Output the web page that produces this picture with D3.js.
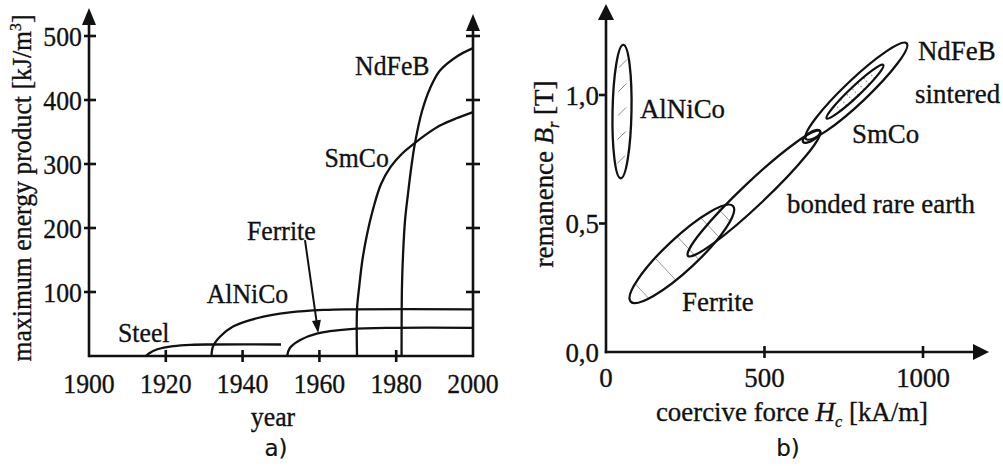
<!DOCTYPE html>
<html>
<head>
<meta charset="utf-8">
<script src="https://cdn.jsdelivr.net/npm/d3@7"></script>
<style>
  html, body { margin: 0; padding: 0; background: #fff; }
  svg { display: block; }
  text { font-family: "Liberation Serif", "Times New Roman", serif; fill: #111; stroke: #111; stroke-width: 0.35px; }
  .panel-tag { font-family: "DejaVu Sans", Verdana, sans-serif; stroke-width: 0.2px; }
</style>
</head>
<body>
<svg id="chart" width="1003" height="466"></svg>
<script>
// ---------- a) maximum energy product by year ----------
const yearTicks = [1900, 1920, 1940, 1960, 1980, 2000];
const energyTicks = [100, 200, 300, 400, 500];

// [year, kJ/m³]
const steel   = [[1914.8, 0], [1915.6, 4], [1917.8, 10.5], [1922, 15.5], [1926.5, 17.5], [1932, 18], [1950, 18]];
const alnico  = [[1931.9, 0], [1932.3, 15], [1934.1, 30], [1937.5, 46], [1943.7, 59], [1952.3, 68], [1961, 72], [1968, 73], [2000, 73]];
const ferrite = [[1951.6, 0], [1952.3, 12.5], [1955, 25], [1959.3, 35], [1968, 42], [1980, 44], [2000, 44]];
const smco    = [[1969.8, 0], [1969.8, 73], [1970.4, 110], [1971.2, 150], [1972.4, 190], [1974, 230], [1976, 268], [1978.5, 295], [1981.5, 316], [1984.9, 333], [1988, 347], [1991.4, 360], [1995.5, 371], [2000, 381]];
const ndfeb   = [[1981.4, 0], [1981.5, 108], [1981.8, 161], [1982.3, 212], [1983.1, 255], [1984, 298], [1984.9, 333], [1986.7, 382], [1988.8, 418], [1991.4, 446], [1995.8, 468], [2000, 481]];
const ferriteArrow = [[1956.25, 181], [1959.7, 35.5]];

const curveLabels = [
  { text: "NdFeB",   year: 1969.3,  value: 439,   anchor: "start" },
  { text: "SmCo",    year: 1978.1,  value: 295.3, anchor: "end" },
  { text: "Ferrite", year: 1941.15, value: 181.25, anchor: "start" },
  { text: "AlNiCo",  year: 1930.65, value: 82.8,  anchor: "start" },
  { text: "Steel",   year: 1907.55, value: 22.3,  anchor: "start" }
];

// ---------- b) remanence vs coercive force ----------
const hcTicks = [0, 500, 1000];
const brTicks = [0, 0.5, 1.0];
const brTickText = ["0,0", "0,5", "1,0"];

// each region: ends of the long axis [kA/m, T] and width as a fraction of its length
const regions = [
  { name: "AlNiCo",        from: [54.6, 1.195], to: [46.4, 0.676], width: 0.142, hatch: "dash" },
  { name: "Ferrite",       from: [77.9, 0.196], to: [400.6, 0.568], width: 0.23, hatch: "line" },
  { name: "bonded",        from: [258.7, 0.374], to: [675, 0.860], width: 0.13, hatch: null },
  { name: "SmCo bonded",   from: [621.5, 0.818], to: [675, 0.860], width: 0.4, hatch: null },
  { name: "NdFeB",         from: [631, 0.829], to: [948.6, 1.201], width: 0.167, hatch: null },
  { name: "SmCo sintered", from: [696.2, 0.909], to: [874.8, 1.117], width: 0.13, hatch: "dot" }
];

const regionLabels = [
  { text: "AlNiCo",            hc: 107, br: 0.911 },
  { text: "NdFeB",             hc: 984, br: 1.136 },
  { text: "sintered",          hc: 975, br: 0.969 },
  { text: "SmCo",              hc: 776, br: 0.813 },
  { text: "bonded rare earth", hc: 571, br: 0.541 },
  { text: "Ferrite",           hc: 240, br: 0.160 }
];

// ---------- drawing ----------
const svg = d3.select("#chart");
const ink = "#111";

function txt(g, x, y, s, size, sx, anchor) {
  return g.append("text")
    .attr("transform", `translate(${x},${y}) scale(${sx},1)`)
    .attr("text-anchor", anchor || "start")
    .attr("font-size", size)
    .text(s);
}
function arrowHead(g, tip, dir, len, hw) {
  // dir: unit vector pointing towards the tip
  const [tx, ty] = tip, [ux, uy] = dir;
  const bx = tx - ux * len, by = ty - uy * len;
  g.append("path")
    .attr("d", `M${tx},${ty}L${bx - uy * hw},${by + ux * hw}L${bx + uy * hw},${by - ux * hw}Z`)
    .attr("fill", ink);
}

// ---- panel a ----
const A = svg.append("g");
const fa = 28, sa = 0.92;
const x = d3.scaleLinear().domain([1900, 2000]).range([89, 473]);
const y = d3.scaleLinear().domain([0, 500]).range([356, 36]);

const axisA = A.append("g").attr("stroke", ink).attr("stroke-width", 2.6).attr("fill", "none");
axisA.append("line").attr("x1", x(1900)).attr("x2", x(1900)).attr("y1", y(0) + 1.3).attr("y2", 22);
axisA.append("line").attr("x1", x(2000)).attr("x2", x(2000)).attr("y1", y(0) + 1.3).attr("y2", 28);
axisA.append("line").attr("x1", x(1900)).attr("x2", x(2000)).attr("y1", y(0)).attr("y2", y(0));
arrowHead(A, [x(1900), 8], [0, -1], 17, 7);
arrowHead(A, [x(2000), 14], [0, -1], 17, 7);

axisA.selectAll(".tl").data(energyTicks).join("line").attr("class", "tl")
  .attr("x1", x(1900) - 5).attr("x2", x(1900) + 7).attr("y1", d => y(d)).attr("y2", d => y(d));
axisA.selectAll(".tr").data(energyTicks).join("line").attr("class", "tr")
  .attr("x1", x(2000) - 7).attr("x2", x(2000) + 7).attr("y1", d => y(d)).attr("y2", d => y(d));
axisA.selectAll(".tb").data(yearTicks.slice(1, -1)).join("line").attr("class", "tb")
  .attr("x1", d => x(d)).attr("x2", d => x(d)).attr("y1", y(0) - 6).attr("y2", y(0) + 6);

yearTicks.forEach(t => txt(A, x(t), 393, t, fa, sa, "middle"));
energyTicks.forEach(t => txt(A, 82, y(t) + 9.5, t, fa, sa, "end"));
txt(A, 273, 426, "year", fa, sa, "middle");

const yl = A.append("text")
  .attr("transform", `translate(31,188) rotate(-90) scale(${sa},1)`)
  .attr("text-anchor", "middle").attr("font-size", fa);
yl.append("tspan").text("maximum energy product [kJ/m");
yl.append("tspan").attr("font-size", 17).attr("dy", -10).text("3");
yl.append("tspan").attr("dy", 10).text("]");

const line = d3.line().x(d => x(d[0])).y(d => y(d[1])).curve(d3.curveCatmullRom.alpha(0.5));
const curves = A.append("g").attr("fill", "none").attr("stroke", ink).attr("stroke-width", 2.3);
[steel, alnico, ferrite, smco, ndfeb].forEach(s => curves.append("path").attr("d", line(s)));

// pointer from the "Ferrite" label to its curve
const [p0, p1] = ferriteArrow.map(d => [x(d[0]), y(d[1])]);
const L = Math.hypot(p1[0] - p0[0], p1[1] - p0[1]);
const u = [(p1[0] - p0[0]) / L, (p1[1] - p0[1]) / L];
A.append("line").attr("x1", p0[0]).attr("y1", p0[1])
  .attr("x2", p1[0] - u[0] * 10).attr("y2", p1[1] - u[1] * 10)
  .attr("stroke", ink).attr("stroke-width", 2);
arrowHead(A, p1, u, 13, 4.5);

curveLabels.forEach(l => txt(A, x(l.year), y(l.value), l.text, fa, sa, l.anchor));
txt(A, 276, 456, "a)", 23, 1, "middle").attr("class", "panel-tag");

// ---- panel b ----
const B = svg.append("g");
const fb = 28, sb = 0.96;
const x2 = d3.scaleLinear().domain([0, 1000]).range([606, 923]);
const y2 = d3.scaleLinear().domain([0, 1]).range([352, 95]);

const axisB = B.append("g").attr("stroke", ink).attr("stroke-width", 2.6).attr("fill", "none");
axisB.append("line").attr("x1", x2(0)).attr("x2", x2(0)).attr("y1", y2(0) + 1.3).attr("y2", 18);
axisB.append("line").attr("x1", x2(0) - 1.3).attr("x2", 975).attr("y1", y2(0)).attr("y2", y2(0));
arrowHead(B, [x2(0), 4], [0, -1], 16, 8);
arrowHead(B, [989, y2(0)], [1, 0], 16, 8);
axisB.selectAll(".ty").data(brTicks.slice(1)).join("line").attr("class", "ty")
  .attr("x1", x2(0) - 7).attr("x2", x2(0)).attr("y1", d => y2(d)).attr("y2", d => y2(d));
axisB.selectAll(".tx").data(hcTicks.slice(1)).join("line").attr("class", "tx")
  .attr("x1", d => x2(d)).attr("x2", d => x2(d)).attr("y1", y2(0) - 6).attr("y2", y2(0) + 6);

hcTicks.forEach(t => txt(B, x2(t), 387, t, fb, sb, "middle"));
brTicks.forEach((t, i) => txt(B, 599, y2(t) + 9.5, brTickText[i], fb, sb, "end"));

const xl = B.append("text")
  .attr("transform", `translate(792,421) scale(${sb},1)`)
  .attr("text-anchor", "middle").attr("font-size", fb);
xl.append("tspan").text("coercive force ");
xl.append("tspan").attr("font-style", "italic").text("H");
xl.append("tspan").attr("font-style", "italic").attr("font-size", 17).attr("dy", 6).text("c");
xl.append("tspan").attr("dy", -6).text(" [kA/m]");

const yl2 = B.append("text")
  .attr("transform", `translate(553,174) rotate(-90) scale(${sb},1)`)
  .attr("text-anchor", "middle").attr("font-size", fb);
yl2.append("tspan").text("remanence ");
yl2.append("tspan").attr("font-style", "italic").text("B");
yl2.append("tspan").attr("font-style", "italic").attr("font-size", 17).attr("dy", 6).text("r");
yl2.append("tspan").attr("dy", -6).text(" [T]");

// region outlines, with light hatching inside some of them
const hatchG = B.append("g").attr("stroke", "#8a8a8a").attr("fill", "none");
const shapeG = B.append("g").attr("stroke", ink).attr("stroke-width", 2.3).attr("fill", "none");
regions.forEach(r => {
  const a1 = [x2(r.from[0]), y2(r.from[1])], a2 = [x2(r.to[0]), y2(r.to[1])];
  const cx = (a1[0] + a2[0]) / 2, cy = (a1[1] + a2[1]) / 2;
  const ra = Math.hypot(a2[0] - a1[0], a2[1] - a1[1]) / 2, rb = ra * r.width;
  const ux = (a2[0] - a1[0]) / (2 * ra), uy = (a2[1] - a1[1]) / (2 * ra);
  const ang = Math.atan2(uy, ux) * 180 / Math.PI;
  if (r.hatch === "line" || r.hatch === "dot") {
    const ts = r.hatch === "line" ? [-0.78, -0.32, 0.12, 0.55, 0.82] : [-0.6, -0.4, -0.2, 0, 0.2, 0.4, 0.6];
    ts.forEach(t => {
      const px = cx + ux * ra * t, py = cy + uy * ra * t, h = rb * Math.sqrt(1 - t * t) * 0.95;
      hatchG.append("line")
        .attr("x1", px - uy * h).attr("y1", py + ux * h)
        .attr("x2", px + uy * h).attr("y2", py - ux * h)
        .attr("stroke-width", r.hatch === "line" ? 0.9 : 1.1)
        .attr("stroke-dasharray", r.hatch === "dot" ? "1.5,2" : null);
    });
  } else if (r.hatch === "dash") {
    [-0.72, -0.36, 0, 0.36, 0.72].forEach(t => {
      const px = cx + ux * ra * t, py = cy + uy * ra * t;
      hatchG.append("line")
        .attr("x1", px - 4).attr("y1", py + 4).attr("x2", px + 4).attr("y2", py - 4)
        .attr("stroke-width", 1);
    });
  }
  shapeG.append("ellipse")
    .attr("cx", cx).attr("cy", cy).attr("rx", ra).attr("ry", rb)
    .attr("transform", `rotate(${ang},${cx},${cy})`);
});

regionLabels.forEach(l => txt(B, x2(l.hc), y2(l.br), l.text, fb, sb, "start"));
txt(B, 788, 456, "b)", 23, 1, "middle").attr("class", "panel-tag");
</script>
</body>
</html>
